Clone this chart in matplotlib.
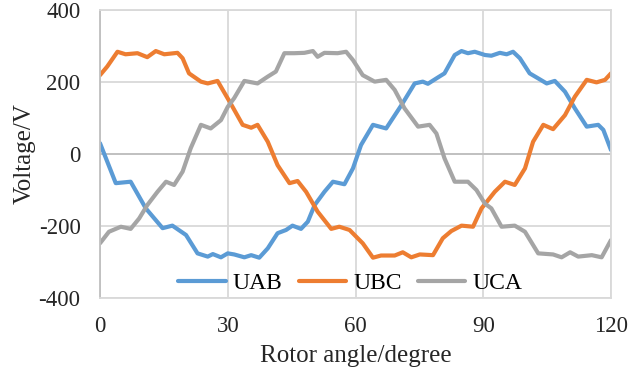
import numpy as np
import matplotlib
matplotlib.use("Agg")
import matplotlib.pyplot as plt

plt.rcParams['font.family'] = ['Liberation Serif', 'DejaVu Serif']
plt.rcParams['axes.unicode_minus'] = False

# values (degree, volt)
uab_x = [0, 3.7, 7.2, 10.75, 14.7, 17, 20.2, 22.9, 25.3, 26.5, 28.4, 30, 31.5, 33.9, 35.5, 37.4,
         39.4, 41.7, 43.7, 45.2, 47.2, 48.8, 50.4, 52.7, 54.7, 57.4, 59.4, 61.3, 64.1, 67.2,
         70.8, 73.9, 75.8, 77, 79.4, 80.9, 83.3, 84.9, 86.4, 88, 90.4, 91.9, 93.9, 95.5, 97,
         98.6, 100.9, 102.9, 104.9, 106.8, 109.2, 111.5, 114.3, 117, 118.2, 120]
uab_y = [30, -81, -77, -151, -206, -199, -225, -276, -285, -278, -287, -276, -279, -287, -281, -288,
         -262, -220, -211, -199, -208, -188, -142, -105, -77, -84, -40, 25, 81, 71,
         136, 196, 201, 195, 213, 224, 275, 286, 280, 284, 275, 273, 281, 277, 284,
         266, 224, 210, 196, 203, 173, 127, 76, 81, 67, 11]

ubc_x = [0, 1.7, 4.1, 6, 8.8, 11.1, 13.1, 15.1, 18.2, 19.4, 20.9, 23.7, 25.3, 27.6, 30.7, 33.5,
         35.5, 37, 39.4, 41.7, 44.5, 46.4, 48.4, 51.1, 54.3, 56.2, 58.6, 61.7, 64.1, 66, 69.2,
         71.1, 73.1, 75.1, 78.2, 80.5, 82.5, 84.9, 87.6, 89.6, 92.7, 95.1, 97.4, 99.8, 101.7,
         104.1, 106.4, 109.2, 111.5, 114.3, 116.6, 118.6, 120]
ubc_y = [219, 243, 284, 277, 280, 269, 286, 277, 281, 266, 224, 201, 196, 203, 140, 81,
         73, 81, 34, -31, -81, -75, -105, -160, -208, -202, -211, -248, -288, -282, -282,
         -273, -287, -279, -281, -234, -214, -199, -202, -151, -105, -77, -86, -40, 34,
         81, 69, 108, 159, 206, 199, 206, 224]

uca_x = [0, 2.1, 4.9, 7.2, 9.2, 11.1, 13.5, 15.5, 17.4, 19.4, 21.3, 23.7, 26, 28.4, 30, 31.5,
         33.9, 37, 39.4, 41.3, 43.3, 45.6, 48, 50, 51.1, 52.7, 55.8, 57.8, 59.4, 61.7, 64.5,
         67.2, 69.2, 71.5, 74.7, 77.4, 79, 80.9, 83.3, 86.4, 88.4, 90.4, 91.9, 94.3, 97.4,
         99.8, 102.9, 106.4, 108.4, 110.4, 112.3, 115.5, 117.8, 120]
uca_y = [-248, -216, -202, -208, -179, -142, -105, -77, -86, -49, 16, 81, 71, 94, 131, 155,
         203, 196, 215, 229, 280, 280, 281, 286, 270, 281, 280, 284, 261, 219, 201,
         206, 178, 127, 76, 81, 57, -12, -77, -77, -100, -138, -151, -202, -199,
         -216, -276, -279, -287, -273, -285, -281, -287, -239]

fig = plt.figure(figsize=(6.42, 3.78), dpi=100)
ax = fig.add_axes([100/642, 1 - 298/378, 511/642, 288/378])

line_kw = dict(lw=3.0, solid_capstyle='round', solid_joinstyle='round')
ax.plot(uab_x, uab_y, color='#5B9BD5', label='UAB', **line_kw)
ax.plot(ubc_x, ubc_y, color='#ED7D31', label='UBC', **line_kw)
ax.plot(uca_x, uca_y, color='#A5A5A5', label='UCA', **line_kw)

ax.set_xlim(0, 120)
ax.set_ylim(-400, 400)
ax.set_xticks([0, 30, 60, 90, 120])
ax.set_yticks([-400, -200, 0, 200, 400])
ax.grid(True, color='#d9d9d9', lw=1.3)
ax.set_axisbelow(True)
ax.axhline(0, color='#bfbfbf', lw=1.3, zorder=1)
for s in ax.spines.values():
    s.set_color('#d9d9d9')
    s.set_linewidth(1.3)
ax.spines['left'].set_color('#bfbfbf')
ax.tick_params(length=0, labelsize=16.5, colors='#262626')
ax.tick_params(axis='x', pad=13)
ax.tick_params(axis='y', pad=14)

ax.set_xlabel('Rotor angle/degree', fontsize=18, color='#262626', labelpad=6)
ax.set_ylabel('Voltage/V', fontsize=18, color='#262626', labelpad=2)

ax.legend(loc='lower center', bbox_to_anchor=(0.49, -0.06), ncol=3, frameon=False,
          fontsize=17, handlelength=2.0, handletextpad=0.3, columnspacing=0.7)

plt.savefig('out.png', dpi=100)
